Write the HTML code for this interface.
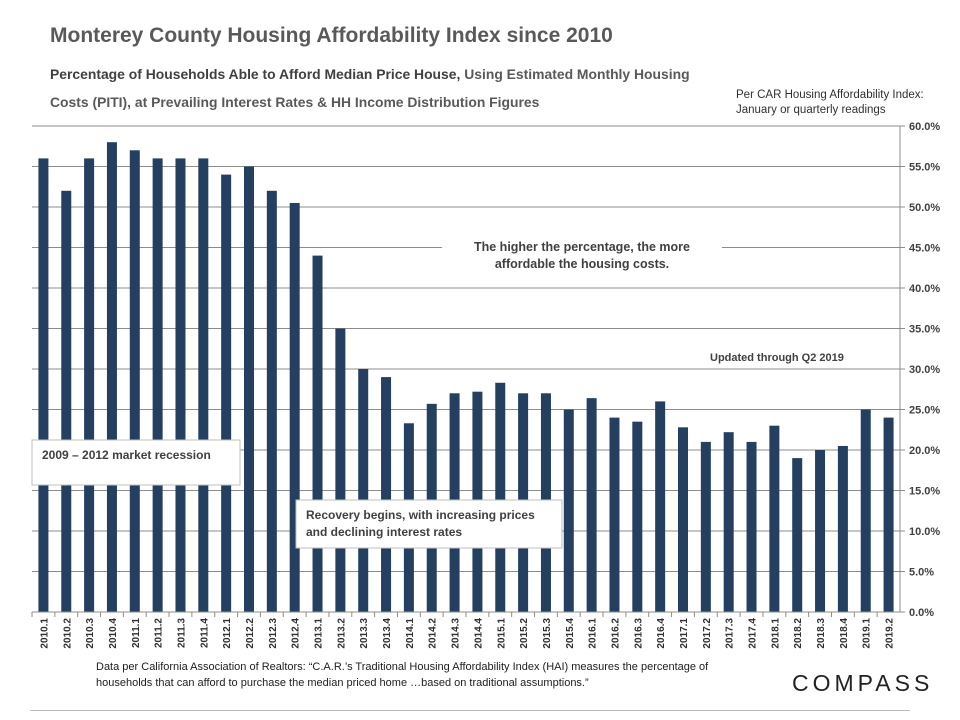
<!DOCTYPE html>
<html><head><meta charset="utf-8"><style>
body{margin:0;background:#fff;font-family:"Liberation Sans",sans-serif;}
#wrap{position:relative;width:960px;height:720px;overflow:hidden;}
.t{position:absolute;color:#404040;white-space:nowrap;}
</style></head><body>
<div id="wrap">
<div class="t" style="left:50px;top:24px;font-size:21px;font-weight:bold;color:#595959;">Monterey County Housing Affordability Index since 2010</div>
<div class="t" style="left:50px;top:60px;font-size:13.9px;font-weight:bold;line-height:28px;color:#404040;">Percentage of Households Able to Afford Median Price House, <span style="color:#595959">Using Estimated Monthly Housing</span><br><span style="color:#595959">Costs (PITI), at Prevailing Interest Rates &amp; HH Income Distribution Figures</span></div>
<div class="t" style="left:736px;top:88px;font-size:11.5px;line-height:15px;color:#303030;">Per CAR Housing Affordability Index:<br>January or quarterly readings</div>
<svg id="chart" width="960" height="720" style="position:absolute;left:0;top:0"></svg>
<div class="t" style="left:96px;top:659px;font-size:11px;line-height:16px;color:#202020;">Data per California Association of Realtors: “C.A.R.’s Traditional Housing Affordability Index (HAI) measures the percentage of<br>households that can afford to purchase the median priced home …based on traditional assumptions.”</div>
<div class="t" style="left:792px;top:670px;font-size:23px;letter-spacing:4px;color:#222;">COMPASS</div>
<div style="position:absolute;left:30px;top:710px;width:880px;height:1px;background:#bbb"></div>
</div>
<script>
const categories=["2010.1","2010.2","2010.3","2010.4","2011.1","2011.2","2011.3","2011.4","2012.1","2012.2","2012.3","2012.4","2013.1","2013.2","2013.3","2013.4","2014.1","2014.2","2014.3","2014.4","2015.1","2015.2","2015.3","2015.4","2016.1","2016.2","2016.3","2016.4","2017.1","2017.2","2017.3","2017.4","2018.1","2018.2","2018.3","2018.4","2019.1","2019.2"];
const values=[56,52,56,58,57,56,56,56,54,55,52,50.5,44,35,30,29,23.3,25.7,27,27.2,28.3,27,27,25,26.4,24,23.5,26,22.8,21,22.2,21,23,19,20,20.5,25,24];
const yTicks=[0,5,10,15,20,25,30,35,40,45,50,55,60];
const yTickLabels=["0.0%","5.0%","10.0%","15.0%","20.0%","25.0%","30.0%","35.0%","40.0%","45.0%","50.0%","55.0%","60.0%"];
const NS="http://www.w3.org/2000/svg";
const svg=document.getElementById('chart');
const X0=32,X1=900,Y0=612,Y1=126,YMAX=60;
const band=(X1-X0)/categories.length;
const y=v=>Y0-(v/YMAX)*(Y0-Y1);
const x=i=>X0+band*i;
function mk(tag,attrs){const e=document.createElementNS(NS,tag);for(const k in attrs)e.setAttribute(k,attrs[k]);svg.appendChild(e);return e;}
yTicks.forEach((t,i)=>{
 if(t>0){const g=mk('line',{x1:X0,x2:X1,y1:y(t),y2:y(t),stroke:'#8c8c8c','stroke-width':1});
 
 }
 const tk=mk('line',{x1:X1,x2:X1+5,y1:y(t),y2:y(t),stroke:'#8c8c8c'});
 
 
 const l=mk('text',{x:X1+9,y:y(t)+4,'font-size':11,'font-weight':'bold',fill:'#404040','font-family':'Liberation Sans, sans-serif'});
 l.textContent=yTickLabels[i];
 
 
});
values.forEach((v,i)=>{
 const bw=10;
 const r=mk('rect',{x:x(i)+band/2-bw/2,y:y(v),width:bw,height:Y0-y(v),fill:'#243f60'});
 
 
 const tk=mk('line',{x1:x(i),x2:x(i),y1:Y0,y2:Y0+5,stroke:'#8c8c8c'});
 
 
 const cx=x(i)+band/2+4,cy=Y0+6;
 const l=mk('text',{x:cx,y:cy,'font-size':10,'font-weight':'bold',fill:'#303030','text-anchor':'end',transform:`rotate(-90 ${cx} ${cy})`,'font-family':'Liberation Sans, sans-serif'});
 l.textContent=categories[i];
 
 
});
const xa=mk('line',{x1:X0,x2:X1,y1:Y0,y2:Y0,stroke:'#8c8c8c'});


const ya=mk('line',{x1:X1,x2:X1,y1:Y1,y2:Y0,stroke:'#8c8c8c'});


function box(name,bx,by,w,h,lines,border,bold,fs,anchor){
 const r=mk('rect',{x:bx,y:by,width:w,height:h,fill:'#fff',stroke:border?'#bfbfbf':'none'});
 
 
 lines.forEach((s,k)=>{
  const t=mk('text',{x:anchor==='middle'?bx+w/2:bx+10,y:by+19+k*17,'font-size':fs,'font-weight':bold?'bold':'normal',fill:'#404040','text-anchor':anchor,'font-family':'Liberation Sans, sans-serif'});
  t.textContent=s;
  
  
 });
}
box('affordability-note',442,232,280,44,['The higher the percentage, the more','affordable the housing costs.'],false,true,12.5,'middle');
box('updated-note',700,342,160,22,['Updated through Q2 2019'],false,true,11,'start');
box('recession-box',32,440,208,45,['2009 – 2012   market recession'],true,true,12,'start');
box('recovery-box',296,500,266,48,['Recovery begins, with increasing prices','and declining interest rates'],true,true,12,'start');
</script>
</body></html>
